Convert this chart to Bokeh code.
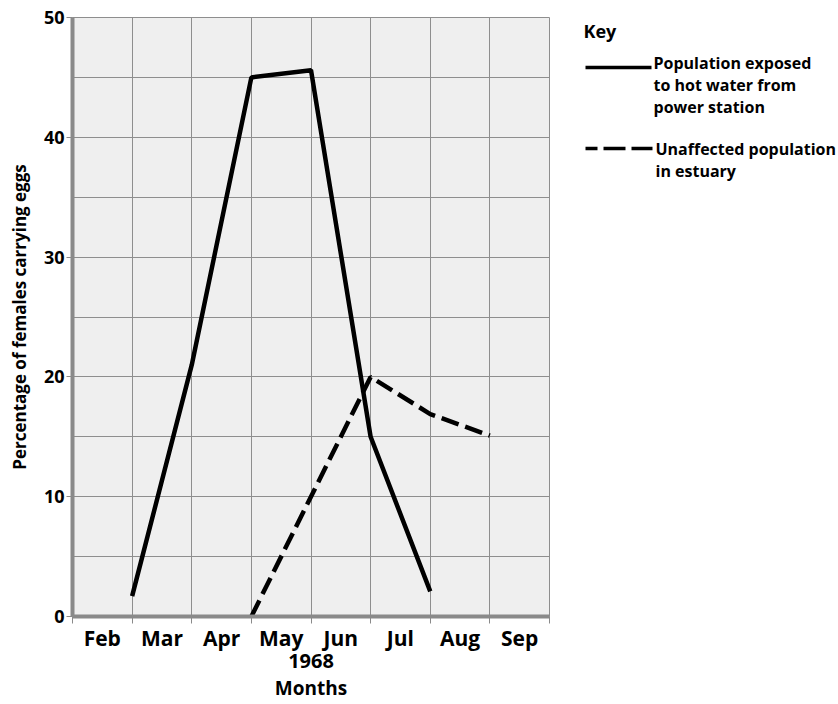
from bokeh.plotting import figure
from bokeh.models import Range1d, FixedTicker, Label, LinearAxis
from bokeh.layouts import row
from bokeh.embed import file_html
from bokeh.resources import INLINE

# ---------------- data ----------------
months = ["Feb", "Mar", "Apr", "May", "Jun", "Jul", "Aug", "Sep"]
# x positions are month boundaries: 1 = Feb/Mar, 2 = Mar/Apr, ... 7 = Aug/Sep
hot_x = [1, 2, 3, 4, 5, 6]
hot_y = [1.7, 21.0, 45.0, 45.6, 15.0, 2.1]
est_x = [3, 5, 6, 7]
est_y = [0.0, 20.0, 16.9, 15.1]
y_ticks = [0, 10, 20, 30, 40, 50]
y_grid = [0, 5, 10, 15, 20, 25, 30, 35, 40, 45, 50]
year_label = "1968"
x_title = "Months"
y_title = "Percentage of females carrying eggs"
key_title = "Key"
hot_label = ["Population exposed", "to hot water from", "power station"]
est_label = ["Unaffected population", "in estuary"]

FONT = "Open Sans"
GRID = "#8e8e8e"
AXIS = "#8a8a8a"
TOP, BOTTOM = 17, 88

# ---------------- main chart ----------------
p = figure(width=559, height=704, x_range=Range1d(0, len(months)), y_range=Range1d(0, 50),
           output_backend="svg", toolbar_location=None,
           min_border_left=72, min_border_right=10, min_border_top=TOP, min_border_bottom=BOTTOM,
           background_fill_color="#efefef", border_fill_color="white")
p.outline_line_color = GRID
p.outline_line_width = 1

p.line(hot_x, hot_y, line_color="black", line_width=4.5)
p.line(est_x, est_y, line_color="black", line_width=4.5, line_dash="18 7")

xa = p.xaxis[0]
xa.ticker = FixedTicker(ticks=[i + 0.5 for i in range(len(months))],
                        minor_ticks=list(range(len(months) + 1)))
xa.major_label_overrides = {i + 0.5: m for i, m in enumerate(months)}
xa.major_tick_out = 0
xa.major_tick_in = 0
xa.minor_tick_out = 7
xa.minor_tick_in = 0
xa.minor_tick_line_color = AXIS
xa.axis_line_color = AXIS
xa.axis_line_width = 4
xa.major_label_standoff = 0
xa.major_label_text_font = FONT
xa.major_label_text_font_style = "bold"
xa.major_label_text_font_size = "21px"
xa.major_label_text_color = "black"
xa.axis_label = year_label
xa.axis_label_standoff = -1
xa.axis_label_text_font = FONT
xa.axis_label_text_font_style = "bold"
xa.axis_label_text_font_size = "20px"
xa.axis_label_text_color = "black"

xa2 = LinearAxis(ticker=FixedTicker(ticks=[]), axis_line_color=None,
                 major_tick_out=0, major_tick_in=0, minor_tick_out=0, minor_tick_in=0,
                 major_label_standoff=0, axis_label=x_title, axis_label_standoff=4,
                 axis_label_text_font=FONT, axis_label_text_font_style="bold",
                 axis_label_text_font_size="19px", axis_label_text_color="black")
p.add_layout(xa2, "below")

ya = p.yaxis[0]
ya.ticker = FixedTicker(ticks=y_ticks, minor_ticks=[])
ya.major_tick_out = 6
ya.major_tick_in = 0
ya.major_tick_line_color = AXIS
ya.axis_line_color = AXIS
ya.axis_line_width = 4
ya.major_label_standoff = 2
ya.major_label_text_font = FONT
ya.major_label_text_font_style = "bold"
ya.major_label_text_font_size = "18px"
ya.major_label_text_color = "black"
ya.axis_label = y_title
ya.axis_label_text_font = FONT
ya.axis_label_text_font_style = "bold"
ya.axis_label_text_font_size = "17px"
ya.axis_label_text_color = "black"
ya.axis_label_standoff = 10

p.xgrid.ticker = FixedTicker(ticks=list(range(len(months) + 1)))
p.ygrid.ticker = FixedTicker(ticks=y_grid)
for g in (p.xgrid[0], p.ygrid[0]):
    g.grid_line_color = GRID
    g.grid_line_width = 1

# ---------------- key panel (coordinates = page pixels) ----------------
W, H = 279, 704
q = figure(width=W, height=H, x_range=Range1d(0, W), y_range=Range1d(H - BOTTOM, TOP),
           x_axis_type=None, y_axis_type=None, output_backend="svg", toolbar_location=None,
           min_border_left=0, min_border_right=0, min_border_top=TOP, min_border_bottom=BOTTOM)
q.outline_line_color = None
q.grid.visible = False


def key_text(x, y, t, size="16px"):
    q.add_layout(Label(x=x, y=y, text=t, text_align="left", text_baseline="middle",
                       text_font=FONT, text_font_style="bold", text_font_size=size,
                       text_color="black"))


key_text(24, 30, key_title, "18px")
q.line([26, 92], [67, 67], line_color="black", line_width=3.5)
for i, t in enumerate(hot_label):
    key_text(94, 62 + 22 * i, t)
q.line([26, 93], [148, 148], line_color="black", line_width=3.5, line_dash="12 6 22 6 22")
for i, t in enumerate(est_label):
    key_text(96, 148 + 22 * i, t)

layout = row(p, q)
open("out.html", "w").write(file_html(layout, INLINE))
